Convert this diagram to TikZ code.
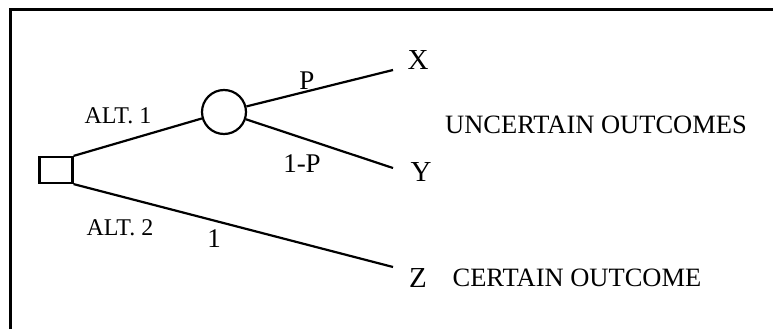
\documentclass[tikz,border=0pt]{standalone}
\usepackage{fontspec}
\setmainfont{Liberation Serif}

\begin{document}
\begin{tikzpicture}[
  x=1pt,y=-1pt,
  branch/.style={line width=2.2pt},
  frame/.style={line width=3pt},
  decision/.style={draw,line width=2.2pt,minimum width=33pt,minimum height=26pt,inner sep=0pt},
  chance/.style={draw,circle,line width=2.2pt,minimum size=44pt,inner sep=0pt},
  prob/.style={inner sep=0pt,font=\fontsize{27}{30}\selectfont},
  alt/.style={inner sep=0pt,font=\fontsize{24}{28}\selectfont},
  outcome/.style={inner sep=0pt,font=\fontsize{29}{32}\selectfont},
  note/.style={inner sep=0pt,font=\fontsize{26.5}{30}\selectfont}
]
  \useasboundingbox (0,0) rectangle (773,329);
  \draw[frame] (10,329) -- (10,10) -- (773,10);

  \node[decision] (dec) at (56,170) {};
  \node[chance] (node1) at (224,112) {};
  \coordinate (xend) at (393,70);
  \coordinate (yend) at (393,168);
  \coordinate (zend) at (393,267);

  \draw[branch] (dec.north east) -- (node1);
  \draw[branch] (node1) -- (xend);
  \draw[branch] (node1) -- (yend);
  \draw[branch] (dec.south east) -- (zend);

  \node[alt] (alt1) at (118,116) {ALT. 1};
  \node[alt] (alt2) at (120,228) {ALT. 2};
  \node[prob] (p) at (307,81) {P};
  \node[prob] (q) at (302,164) {1-P};
  \node[prob] (one) at (214,239) {1};

  \node[outcome] (X) at (418,60) {X};
  \node[outcome] (Y) at (421,172) {Y};
  \node[outcome] (Z) at (418,278) {Z};
  \node[note] (unc) at (596,125) {UNCERTAIN OUTCOMES};
  \node[note] (cert) at (577,278) {CERTAIN OUTCOME};
\end{tikzpicture}
\end{document}
